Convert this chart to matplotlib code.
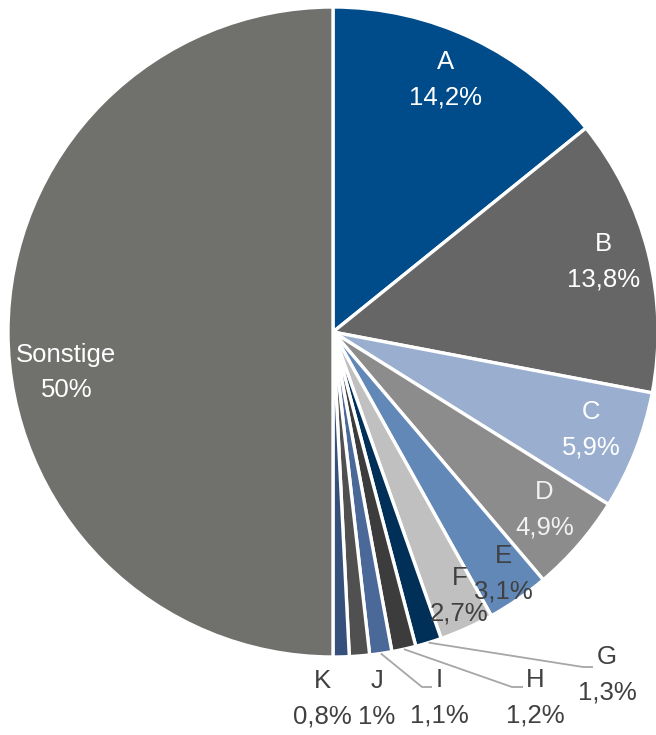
import numpy as np
import matplotlib
matplotlib.use("Agg")
from matplotlib import pyplot as plt

# slice data, clockwise from 12 o'clock
labels = ["A", "B", "C", "D", "E", "F", "G", "H", "I", "J", "K", "Sonstige"]
values = [14.2, 13.8, 5.9, 4.9, 3.1, 2.7, 1.3, 1.2, 1.1, 1.0, 0.8, 50.0]
pct_text = ["14,2%", "13,8%", "5,9%", "4,9%", "3,1%", "2,7%", "1,3%", "1,2%",
            "1,1%", "1%", "0,8%", "50%"]
colors = ["#004c8b", "#666666", "#9aafcf", "#8c8c8c", "#6288b8", "#c0c0c0",
          "#003058", "#3c3c3c", "#4a6898", "#505050", "#35507a", "#70716d"]

plt.rcParams['font.family'] = ['Liberation Sans', 'DejaVu Sans']

fig = plt.figure(figsize=(6.56, 7.35), dpi=100)
ax = fig.add_axes([0, 0, 1, 1])

wedges, _ = ax.pie(values, colors=colors, startangle=90, counterclock=False,
                   radius=1.0, center=(0, 0),
                   wedgeprops=dict(edgecolor='white', linewidth=2.4))

# pie has radius 1 at origin, axes span mapped from pixel frame
# (limits set after pie(), which resets them)
R_PX = 325.0
CX, CY = 333.0, 332.0
ax.set_xlim(-CX / R_PX, (656 - CX) / R_PX)
ax.set_ylim((CY - 735) / R_PX, CY / R_PX)
ax.set_aspect('equal')
ax.axis('off')

FS = 18.5
HALF = 12.8   # half the gap between name and percent line, points
DARK = "#404040"

# inside labels: radial distance and angle nudge (deg)
inside = {"A": (0.85, 1.5, 'white'), "B": (0.86, 0.5, 'white'),
          "C": (0.85, 0.7, 'white'), "D": (0.85, 0.8, '#f2f2f2'),
          "E": (0.91, 0.5, DARK), "F": (0.90, 1.3, DARK),
          "Sonstige": (0.83, 8.6, 'white')}

# outside labels: text centre (pixel), leader line bend points (pixel)
outside = {"G": ((607, 675), [(583, 667), (593, 667)]),
           "H": ((535, 698), [(512, 687), (523, 687)]),
           "I": ((439, 698), [(422, 687), (432, 687)]),
           "J": ((377, 699), None),
           "K": ((322, 699), None)}


def px(p):
    return ((p[0] - CX) / R_PX, (CY - p[1]) / R_PX)


def two_line(x, y, top, bottom, c):
    # name above, percent below, each its own text
    ax.annotate(top, (x, y), xytext=(0, HALF), textcoords='offset points',
                ha='center', va='center', fontsize=FS, color=c)
    ax.annotate(bottom, (x, y), xytext=(0, -HALF), textcoords='offset points',
                ha='center', va='center', fontsize=FS, color=c)


for w, lab, pt in zip(wedges, labels, pct_text):
    mid = np.deg2rad((w.theta1 + w.theta2) / 2)
    if lab in inside:
        r, nudge, c = inside[lab]
        a = mid + np.deg2rad(nudge)
        two_line(r * np.cos(a), r * np.sin(a), lab, pt, c)
    else:
        pos, line = outside[lab]
        tx, ty = px(pos)
        two_line(tx, ty, lab, pt, DARK)
        if line is not None:
            sx, sy = 1.0 * np.cos(mid), 1.0 * np.sin(mid)
            pts = [(sx, sy)] + [px(p) for p in line]
            xs, ys = zip(*pts)
            ax.plot(xs, ys, color="#a6a6a6", lw=1.3, solid_capstyle='butt')

fig.savefig("out.png", dpi=100)
